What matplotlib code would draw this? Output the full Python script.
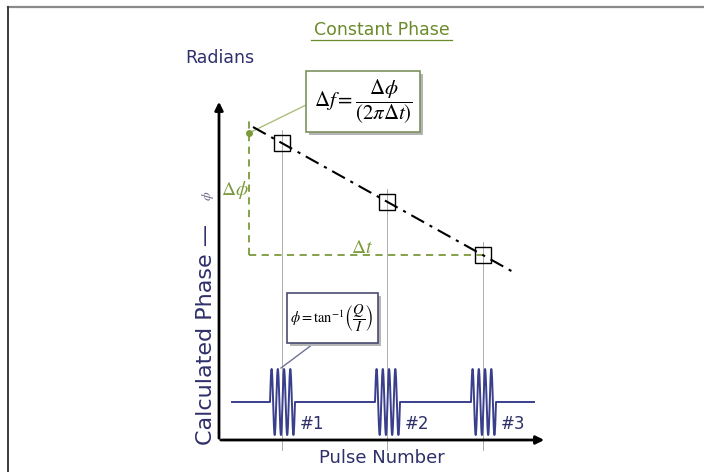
import numpy as np
import matplotlib
matplotlib.use('Agg')
import matplotlib.pyplot as plt
from matplotlib.patches import Rectangle
from matplotlib.lines import Line2D

plt.rcParams['mathtext.fontset'] = 'stix'
plt.rcParams['font.family'] = ['DejaVu Sans']

# values (units: 1 = 100 px)
pulse_labels = ['#1', '#2', '#3']
pulse_time = [0.63, 1.68, 2.64]
phase_meas = [2.97, 2.38, 1.85]
pulse_base = 0.38
pulse_amp = 0.33
pulse_cycles = 4
pulse_width = 0.25

title_col = '#6b8a2a'
navy = '#2f2f6a'
green = '#7c9a3c'
wave_col = '#3a3f8c'

fig = plt.figure(figsize=(7.04, 4.72), dpi=100)
ax = fig.add_axes([0, 0, 1, 1])
ax.set_xlim(-2.19, 4.85)
ax.set_ylim(-0.32, 4.40)
ax.axis('off')

# frame of the slide
fig.add_artist(Line2D([8/704, 1], [1 - 7/472, 1 - 7/472], transform=fig.transFigure, color='#8a8a8a', lw=1.6))
fig.add_artist(Line2D([8/704, 8/704], [0, 1 - 7/472], transform=fig.transFigure, color='#3a3a3a', lw=1.4))

# axes with arrows
ax.annotate('', xy=(0, 3.41), xytext=(0, -0.01),
            arrowprops=dict(arrowstyle='-|>', color='black', lw=2.0, mutation_scale=12))
ax.annotate('', xy=(3.28, 0), xytext=(-0.01, 0),
            arrowprops=dict(arrowstyle='-|>', color='black', lw=2.0, mutation_scale=12))

# vertical guide lines through each pulse
for t, p in zip(pulse_time, phase_meas):
    ax.plot([t, t], [-0.10, p + 0.13], color='#a0a0a0', lw=0.6, zorder=1)

# fitted phase line
slope, icpt = np.polyfit(pulse_time, phase_meas, 1)
xf = np.array([0.34, 2.93])
ax.plot(xf, slope * xf + icpt, color='black', lw=1.5, dashes=(7, 3, 1.5, 3), zorder=3)
ax.plot(pulse_time, phase_meas, 's', ms=12, mfc='none', mec='black', mew=1.0, zorder=4)

# delta phi / delta t construction
x0 = 0.30
ax.plot([x0, x0], [phase_meas[-1], 3.24], color=green, lw=1.3, ls=(0, (4, 3)), zorder=2)
ax.plot([x0, pulse_time[-1]], [phase_meas[-1], phase_meas[-1]], color=green, lw=1.3, ls=(0, (4, 3)), zorder=2)
ax.plot([x0], [3.07], 'o', ms=4, color=green, zorder=3)
ax.text(0.16, 2.50, r'$\Delta\phi$', color=green, fontsize=14, ha='center', va='center')
ax.text(1.43, 1.93, r'$\Delta t$', color=green, fontsize=14, ha='center', va='center')

# formula box 1
ax.plot([0.87, x0], [3.35, 3.07], color='#a9bf7f', lw=1.0, zorder=2)
ax.add_patch(Rectangle((0.90, 3.05), 1.14, 0.61, facecolor='#b5b5b5', edgecolor='none', zorder=4))
ax.add_patch(Rectangle((0.87, 3.08), 1.14, 0.61, facecolor='white', edgecolor='#7e9160', lw=1.2, zorder=5))
ax.text(1.44, 3.38, r'$\Delta f=\dfrac{\Delta\phi}{(2\pi\Delta t)}$', fontsize=15, ha='center', va='center', zorder=6)

# formula box 2
ax.plot([0.94, 0.62], [0.96, 0.72], color='#6f7396', lw=1.0, zorder=2)
ax.add_patch(Rectangle((0.71, 0.94), 0.91, 0.50, facecolor='#b5b5b5', edgecolor='none', zorder=4))
ax.add_patch(Rectangle((0.68, 0.97), 0.91, 0.50, facecolor='white', edgecolor='#4a4a70', lw=1.2, zorder=5))
ax.text(1.13, 1.22, r'$\phi=\tan^{-1}\!\left(\dfrac{Q}{I}\right)$', fontsize=10.5, ha='center', va='center', zorder=6)

# pulse train
xs = [0.13]
ys = [pulse_base]
for t in pulse_time:
    u = np.linspace(0, 1, 200)
    xs.extend(t - 0.12 + u * pulse_width)
    ys.extend(pulse_base + pulse_amp * np.sin(2 * np.pi * pulse_cycles * u))
xs.append(3.15)
ys.append(pulse_base)
ax.plot(xs, ys, color=wave_col, lw=1.4, zorder=3)

for t, lab in zip(pulse_time, pulse_labels):
    ax.text(t + 0.18, 0.16, lab, color=navy, fontsize=12, ha='left', va='center')

# titles and labels
ax.text(1.63, 4.10, 'Constant Phase', color=title_col, fontsize=12.5, ha='center', va='center')
ax.plot([0.92, 2.33], [4.00, 4.00], color=title_col, lw=0.9)
ax.text(0.01, 3.82, 'Radians', color=navy, fontsize=12.5, ha='center', va='center')
ax.text(-0.13, 1.06, 'Calculated Phase \u2014', color=navy, fontsize=16, rotation=90, ha='center', va='center')
ax.text(-0.11, 2.44, r'$\phi$', color='#6a6a8a', fontsize=10, rotation=90, ha='center', va='center')
ax.text(1.63, -0.18, 'Pulse Number', color=navy, fontsize=13, ha='center', va='center')

fig.savefig('out.png', dpi=100)
